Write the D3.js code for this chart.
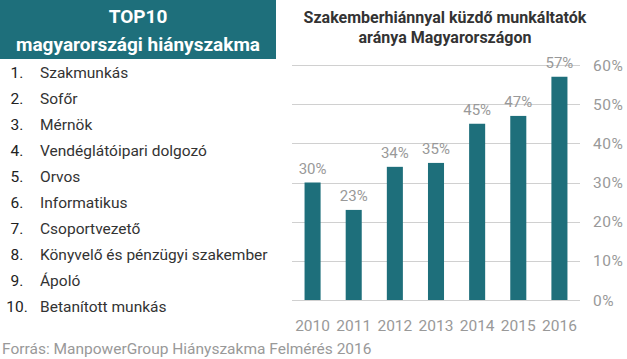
<!DOCTYPE html>
<html><head><meta charset="utf-8">
<script src="https://cdn.jsdelivr.net/npm/d3@7"></script>
<style>body{margin:0;background:#fff;font-family:Roboto,sans-serif}</style>
</head><body><svg id="c" width="627" height="359"></svg>
<script>
const years = ["2010","2011","2012","2013","2014","2015","2016"];
const values = [30,23,34,35,45,47,57];
const yTicks = [0,10,20,30,40,50,60];
const professions = ["Szakmunkás","Sofőr","Mérnök","Vendéglátóipari dolgozó","Orvos","Informatikus","Csoportvezető","Könyvelő és pénzügyi szakember","Ápoló","Betanított munkás"];
const headerLines = ["TOP10","magyarországi hiányszakma"];
const chartTitle = ["Szakemberhiánnyal küzdő munkáltatók","aránya Magyarországon"];
const source = "Forrás: ManpowerGroup Hiányszakma Felmérés 2016";

const teal = "#1e6f7b", gray = "#999", dark = "#333";
const svg = d3.select("#c");

// header
svg.append("rect").attr("x",0).attr("y",0).attr("width",276).attr("height",59).attr("fill",teal);
svg.selectAll("text.h").data(headerLines).join("text").attr("class","h")
  .attr("x",138).attr("y",(d,i)=>23+i*28).attr("text-anchor","middle")
  .attr("fill","#fff").attr("font-weight","bold").attr("font-size",19).text(d=>d);

// list
const rowY = d3.scalePoint().domain(d3.range(professions.length)).range([78,312]);
const g = svg.append("g");
professions.forEach((p,i)=>{
  g.append("text").attr("x",17).attr("y",rowY(i)).attr("text-anchor","middle")
    .attr("font-size",15.5).attr("fill","#222").text((i+1)+".");
  g.append("text").attr("x",40).attr("y",rowY(i))
    .attr("font-size",15.5).attr("fill",dark).text(p);
});

svg.append("text").attr("x",2).attr("y",354).attr("font-size",15.5).attr("fill",gray).text(source);

// chart
const x = d3.scaleBand().domain(years).range([292,580]).paddingInner(0.61).paddingOuter(0.305);
const y = d3.scaleLinear().domain([0,60]).range([300,65]);

svg.selectAll("line.grid").data(yTicks).join("line").attr("class","grid")
  .attr("x1",292).attr("x2",580).attr("y1",d=>Math.round(y(d))+0.5).attr("y2",d=>Math.round(y(d))+0.5)
  .attr("stroke","#d0d0d0").attr("stroke-width",1);

svg.selectAll("text.yt").data(yTicks).join("text").attr("class","yt")
  .attr("x",593).attr("y",d=>y(d)+5.5).attr("font-size",15.5).attr("letter-spacing",0.6).attr("fill",gray).text(d=>d+"%");

svg.selectAll("rect.bar").data(values).join("rect").attr("class","bar")
  .attr("x",(d,i)=>x(years[i])).attr("width",x.bandwidth())
  .attr("y",d=>y(d)).attr("height",d=>y(0)-y(d)).attr("fill",teal);

svg.selectAll("text.vl").data(values).join("text").attr("class","vl")
  .attr("x",(d,i)=>x(years[i])+x.bandwidth()/2).attr("y",d=>y(d)-9)
  .attr("text-anchor","middle").attr("font-size",15).attr("fill",gray).text(d=>d+"%");

const xAxis = svg.append("g").attr("transform","translate(0,300)")
  .call(d3.axisBottom(x).tickSize(0).tickPadding(20));
xAxis.select(".domain").remove();
xAxis.selectAll("text").attr("font-size",15.5).attr("fill",gray).attr("font-family","Roboto");

svg.selectAll("text.t").data(chartTitle).join("text").attr("class","t")
  .attr("x",445).attr("y",(d,i)=>23+i*20).attr("text-anchor","middle")
  .attr("font-weight","bold").attr("font-size",16).attr("fill",dark).text(d=>d);
</script></body></html>
